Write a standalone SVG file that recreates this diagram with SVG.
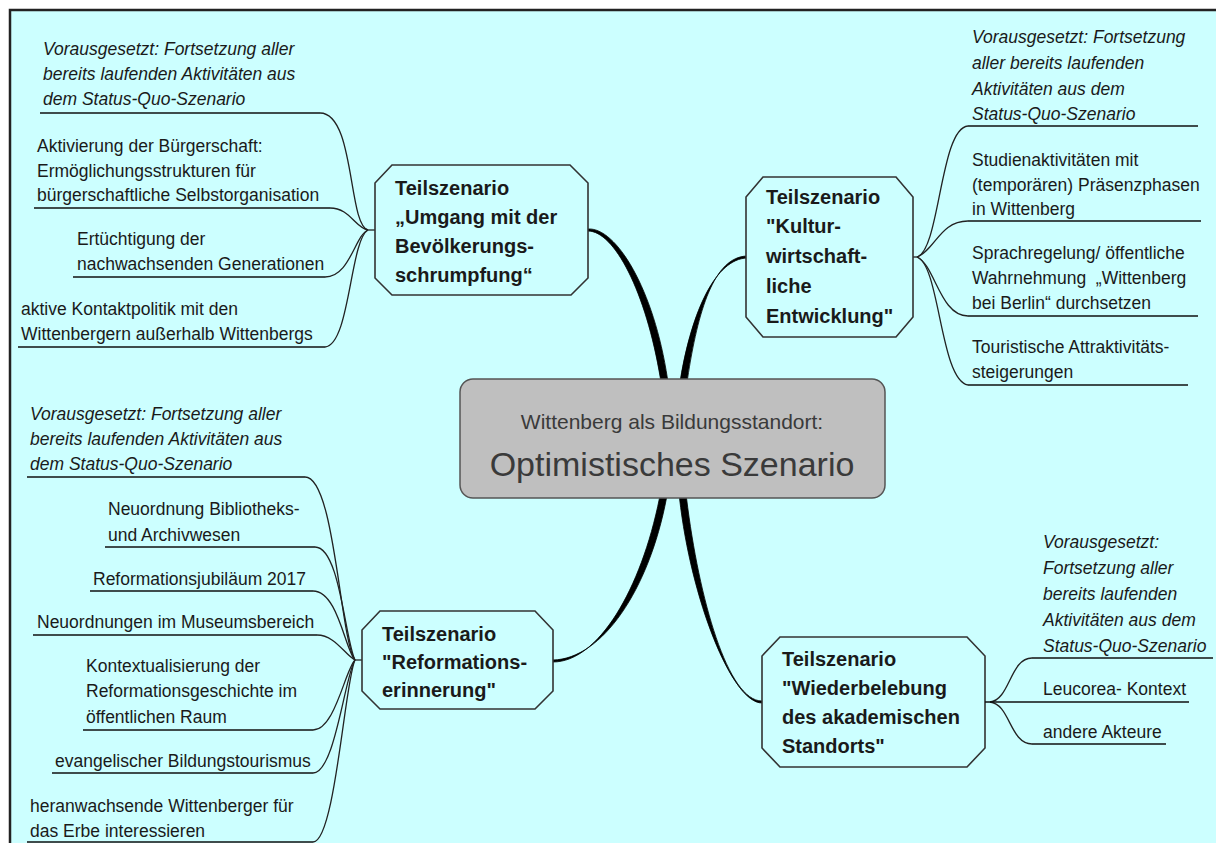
<svg xmlns="http://www.w3.org/2000/svg" width="1216" height="843" viewBox="0 0 1216 843">
<style>
.t{font-family:"Liberation Sans",Arial,sans-serif;font-size:17.5px;fill:#1a1a1a}
.i{font-style:italic}
.h{font-family:"Liberation Sans",Arial,sans-serif;font-size:20px;font-weight:bold;fill:#1a1a1a}
.ul{stroke:#111;stroke-width:1.5;fill:none}
.c{stroke:#222;stroke-width:1.3;fill:none}
.thick{fill:#000;stroke:#000;stroke-width:0.8}
.node{fill:#ccffff;stroke:#333;stroke-width:1.6}
.pre{white-space:pre}
</style>
<rect x="0" y="0" width="1216" height="843" fill="#ffffff"/>
<rect x="10" y="10" width="1210" height="840" fill="#ccffff"/>
<path d="M10,843 V10 H1216" fill="none" stroke="#222" stroke-width="2.5"/>

<g id="connectors">
  <path class="thick" d="M588,229 C616,227 654,289 667.5,379 L660.5,379 C646,291 614,231 588,231 Z"/>
  <path class="thick" d="M747,256 C714,257 698,310 687.5,379 L680.5,379 C692,310 716,259 747,258 Z"/>
  <path class="thick" d="M553,660 C602,659 649,590 666.5,498 L659.5,498 C641,590 598,662 553,662 Z"/>
  <path class="thick" d="M762,701 C728,701 699,600 686.5,498 L679.5,498 C691,600 732,703 762,703 Z"/>
  <!-- Umgang fan -->
  <path class="c" d="M368,230 H375"/>
  <path class="c" d="M320,113 C355,113 348,225 368,230"/>
  <path class="c" d="M330,208 C350,208 355,228 368,230"/>
  <path class="c" d="M325,277 C350,277 355,235 368,230"/>
  <path class="c" d="M325,347 C350,345 350,240 368,230"/>
  <!-- Kultur fan -->
  <path class="c" d="M913,257 H917"/>
  <path class="c" d="M968,126 C940,128 940,250 917,257"/>
  <path class="c" d="M968,221 C940,221 935,250 917,257"/>
  <path class="c" d="M968,316 C940,316 935,265 917,257"/>
  <path class="c" d="M968,385 C940,380 940,265 917,257"/>
  <!-- Reformations fan -->
  <path class="c" d="M355,660 H362"/>
  <path class="c" d="M305,477 C335,477 340,640 355,660"/>
  <path class="c" d="M315,547 C340,547 345,640 355,660"/>
  <path class="c" d="M313,591 C338,591 345,650 355,660"/>
  <path class="c" d="M317,635 C335,635 345,655 355,660"/>
  <path class="c" d="M313,730 C335,730 345,670 355,660"/>
  <path class="c" d="M313,773 C335,773 345,675 355,660"/>
  <path class="c" d="M313,842 C335,842 345,680 355,660"/>
  <!-- Wiederbelebung fan -->
  <path class="c" d="M990,702 C1010,700 1010,658 1032,658"/>
  <path class="c" d="M990,702 C1010,704 1010,744 1032,744"/>
</g>

<g id="center">
  <rect x="460" y="379" width="425" height="119" rx="13" fill="#bfbfbf" stroke="#555" stroke-width="1.5"/>
  <text x="672" y="429" text-anchor="middle" font-family="Liberation Sans,Arial,sans-serif" font-size="21" fill="#3a3a3a">Wittenberg als Bildungsstandort:</text>
  <text x="672" y="476" text-anchor="middle" font-family="Liberation Sans,Arial,sans-serif" font-size="34" fill="#3a3a3a">Optimistisches Szenario</text>
</g>

<g id="node-umgang">
  <polygon class="node" points="392,165 570,165 588,183 588,278 571,295 392,295 375,278 375,183"/>
  <text class="h" x="395" y="195">Teilszenario</text>
  <text class="h" x="395" y="224">„Umgang mit der</text>
  <text class="h" x="395" y="253">Bevölkerungs-</text>
  <text class="h" x="395" y="282">schrumpfung“</text>
</g>

<g id="node-kultur">
  <polygon class="node" points="763,177 896,177 913,197 913,317 896,337 763,337 746,317 746,197"/>
  <text class="h" x="766" y="204">Teilszenario</text>
  <text class="h" x="766" y="233">"Kultur-</text>
  <text class="h" x="766" y="263">wirtschaft-</text>
  <text class="h" x="766" y="293">liche</text>
  <text class="h" x="766" y="323">Entwicklung"</text>
</g>

<g id="node-reformation">
  <polygon class="node" points="380,611 535,611 553,630 553,691 535,709 380,709 362,691 362,630"/>
  <text class="h" x="382" y="641">Teilszenario</text>
  <text class="h" x="382" y="669">"Reformations-</text>
  <text class="h" x="382" y="697">erinnerung"</text>
</g>

<g id="node-wiederbelebung">
  <polygon class="node" points="780,637 967,637 985,656 985,748 967,767 780,767 762,748 762,656"/>
  <text class="h" x="782" y="666">Teilszenario</text>
  <text class="h" x="782" y="695">"Wiederbelebung</text>
  <text class="h" x="782" y="724">des akademischen</text>
  <text class="h" x="782" y="753">Standorts"</text>
</g>

<g id="leaf-u1">
  <text class="t i" x="43" y="55">Vorausgesetzt: Fortsetzung aller</text>
  <text class="t i" x="43" y="80">bereits laufenden Aktivitäten aus</text>
  <text class="t i" x="43" y="105">dem Status-Quo-Szenario</text>
  <path class="ul" d="M40,113 H320"/>
</g>
<g id="leaf-u2">
  <text class="t" x="37" y="152">Aktivierung der Bürgerschaft:</text>
  <text class="t" x="37" y="177">Ermöglichungsstrukturen für</text>
  <text class="t" x="37" y="201">bürgerschaftliche Selbstorganisation</text>
  <path class="ul" d="M34,208 H330"/>
</g>
<g id="leaf-u3">
  <text class="t" x="77" y="245">Ertüchtigung der</text>
  <text class="t" x="77" y="270">nachwachsenden Generationen</text>
  <path class="ul" d="M73,277 H325"/>
</g>
<g id="leaf-u4">
  <text class="t" x="21" y="315">aktive Kontaktpolitik mit den</text>
  <text class="t" x="21" y="340">Wittenbergern außerhalb Wittenbergs</text>
  <path class="ul" d="M18,347 H325"/>
</g>

<g id="leaf-k1">
  <text class="t i" x="972" y="43">Vorausgesetzt: Fortsetzung</text>
  <text class="t i" x="972" y="69">aller bereits laufenden</text>
  <text class="t i" x="972" y="95">Aktivitäten aus dem</text>
  <text class="t i" x="972" y="120">Status-Quo-Szenario</text>
  <path class="ul" d="M968,126 H1198"/>
</g>
<g id="leaf-k2">
  <text class="t" x="972" y="166">Studienaktivitäten mit</text>
  <text class="t" x="972" y="191">(temporären) Präsenzphasen</text>
  <text class="t" x="972" y="215">in Wittenberg</text>
  <path class="ul" d="M968,221 H1201"/>
</g>
<g id="leaf-k3">
  <text class="t" x="972" y="259">Sprachregelung/ öffentliche</text>
  <text class="t pre" x="972" y="284">Wahrnehmung  „Wittenberg</text>
  <text class="t" x="972" y="309">bei Berlin“ durchsetzen</text>
  <path class="ul" d="M968,316 H1198"/>
</g>
<g id="leaf-k4">
  <text class="t" x="972" y="353">Touristische Attraktivitäts-</text>
  <text class="t" x="972" y="378">steigerungen</text>
  <path class="ul" d="M968,385 H1188"/>
</g>

<g id="leaf-r1">
  <text class="t i" x="30" y="420">Vorausgesetzt: Fortsetzung aller</text>
  <text class="t i" x="30" y="445">bereits laufenden Aktivitäten aus</text>
  <text class="t i" x="30" y="470">dem Status-Quo-Szenario</text>
  <path class="ul" d="M27,477 H305"/>
</g>
<g id="leaf-r2">
  <text class="t" x="108" y="515">Neuordnung Bibliotheks-</text>
  <text class="t" x="108" y="541">und Archivwesen</text>
  <path class="ul" d="M105,547 H315"/>
</g>
<g id="leaf-r3">
  <text class="t" x="93" y="585">Reformationsjubiläum 2017</text>
  <path class="ul" d="M90,591 H313"/>
</g>
<g id="leaf-r4">
  <text class="t" x="37" y="628">Neuordnungen im Museumsbereich</text>
  <path class="ul" d="M33,635 H317"/>
</g>
<g id="leaf-r5">
  <text class="t" x="86" y="672">Kontextualisierung der</text>
  <text class="t" x="86" y="697">Reformationsgeschichte im</text>
  <text class="t" x="86" y="723">öffentlichen Raum</text>
  <path class="ul" d="M83,730 H313"/>
</g>
<g id="leaf-r6">
  <text class="t" x="55" y="767">evangelischer Bildungstourismus</text>
  <path class="ul" d="M52,773 H313"/>
</g>
<g id="leaf-r7">
  <text class="t" x="30" y="812">heranwachsende Wittenberger für</text>
  <text class="t" x="30" y="837">das Erbe interessieren</text>
  <path class="ul" d="M27,842 H313"/>
</g>

<g id="leaf-w1">
  <text class="t i" x="1043" y="548">Vorausgesetzt:</text>
  <text class="t i" x="1043" y="574">Fortsetzung aller</text>
  <text class="t i" x="1043" y="600">bereits laufenden</text>
  <text class="t i" x="1043" y="626">Aktivitäten aus dem</text>
  <text class="t i" x="1043" y="652">Status-Quo-Szenario</text>
  <path class="ul" d="M1032,658 H1213"/>
</g>
<g id="leaf-w2">
  <text class="t" x="1043" y="695">Leucorea- Kontext</text>
  <path class="ul" d="M985,702 H1189"/>
</g>
<g id="leaf-w3">
  <text class="t" x="1043" y="738">andere Akteure</text>
  <path class="ul" d="M1032,744 H1166"/>
</g>
</svg>
